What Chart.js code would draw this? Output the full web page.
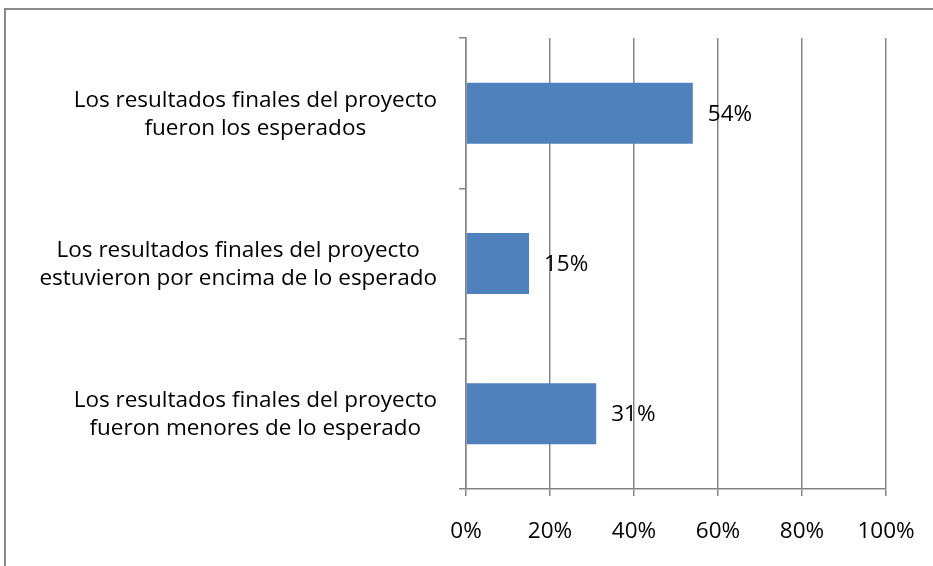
<!DOCTYPE html>
<html>
<head>
<meta charset="utf-8">
<script src="https://cdn.jsdelivr.net/npm/chart.js@4"></script>
<style>
  html, body { margin: 0; padding: 0; background: #fff; overflow: hidden; }
  #wrap { position: absolute; left: 0; top: 0; width: 933px; height: 566px; }
</style>
</head>
<body>
<div id="wrap"><canvas id="resultsChart"></canvas></div>
<script>
const categories = [
  ["Los resultados finales del proyecto", "fueron los esperados"],
  ["Los resultados finales del proyecto", "estuvieron por encima de lo esperado"],
  ["Los resultados finales del proyecto", "fueron menores de lo esperado"]
];
const percentValues = [54, 15, 31];
const xTickValues = [0, 20, 40, 60, 80, 100];

const FONT = "'Open Sans', Lato, sans-serif";
const FONT_SIZE = 22.5;
const GRAY = '#858585';

// frame around the whole chart (runs past right/bottom edges like the source)
const framePlugin = {
  id: 'frame',
  beforeDraw(chart) {
    const ctx = chart.ctx;
    ctx.save();
    ctx.strokeStyle = '#8a8a8a';
    ctx.lineWidth = 2;
    ctx.strokeRect(5, 9, 1000, 700);
    ctx.restore();
  }
};

// category labels: each wrapped label centred on its own width, right aligned to the axis
const categoryLabels = {
  id: 'categoryLabels',
  afterDraw(chart) {
    const ctx = chart.ctx;
    const yScale = chart.scales.y;
    ctx.save();
    ctx.font = FONT_SIZE + 'px ' + FONT;
    ctx.fillStyle = '#000';
    ctx.textAlign = 'center';
    ctx.textBaseline = 'middle';
    const lineH = 28;
    categories.forEach((lines, i) => {
      const maxW = Math.max(...lines.map((l) => ctx.measureText(l).width));
      const cx = 437 - maxW / 2;
      const cy = yScale.getPixelForValue(i) + 1;
      const startY = cy - (lines.length - 1) * lineH / 2;
      lines.forEach((l, j) => ctx.fillText(l, cx, startY + j * lineH));
    });
    ctx.restore();
  }
};

// value labels to the right of each bar
const valueLabels = {
  id: 'valueLabels',
  afterDatasetsDraw(chart) {
    const ctx = chart.ctx;
    const meta = chart.getDatasetMeta(0);
    ctx.save();
    ctx.font = FONT_SIZE + 'px ' + FONT;
    ctx.fillStyle = '#000';
    ctx.textAlign = 'left';
    ctx.textBaseline = 'middle';
    meta.data.forEach((bar, i) => {
      ctx.fillText(percentValues[i] + '%', bar.x + 15, bar.y + 1);
    });
    ctx.restore();
  }
};

const ctx = document.getElementById('resultsChart').getContext('2d');
new Chart(ctx, {
  type: 'bar',
  data: {
    labels: categories.map((c) => c.join(' ')),
    datasets: [{
      data: percentValues,
      backgroundColor: '#4F81BD',
      borderWidth: 0,
      categoryPercentage: 1,
      barPercentage: 0.406
    }]
  },
  options: {
    indexAxis: 'y',
    responsive: true,
    maintainAspectRatio: false,
    animation: false,
    layout: { padding: { top: 38, right: 47, left: 0, bottom: 0 } },
    plugins: {
      legend: { display: false },
      tooltip: { enabled: false }
    },
    scales: {
      x: {
        min: 0,
        max: 100,
        afterBuildTicks(scale) {
          scale.ticks = xTickValues.map((v) => ({ value: v }));
        },
        afterFit(scale) {
          scale.height = 77;
          scale.paddingRight = 0;
          scale.paddingLeft = 0;
        },
        grid: { color: GRAY, lineWidth: 1.5, tickLength: 7 },
        border: { color: GRAY, width: 1.5 },
        ticks: {
          color: '#000',
          font: { family: FONT, size: FONT_SIZE },
          padding: 22,
          maxRotation: 0,
          callback: (v) => v + '%'
        }
      },
      y: {
        afterFit(scale) { scale.width = 466; },
        grid: { drawOnChartArea: false, color: GRAY, lineWidth: 1.5, tickLength: 7, offset: true },
        border: { color: GRAY, width: 1.5 },
        ticks: { display: false }
      }
    }
  },
  plugins: [framePlugin, categoryLabels, valueLabels]
});
</script>
</body>
</html>
